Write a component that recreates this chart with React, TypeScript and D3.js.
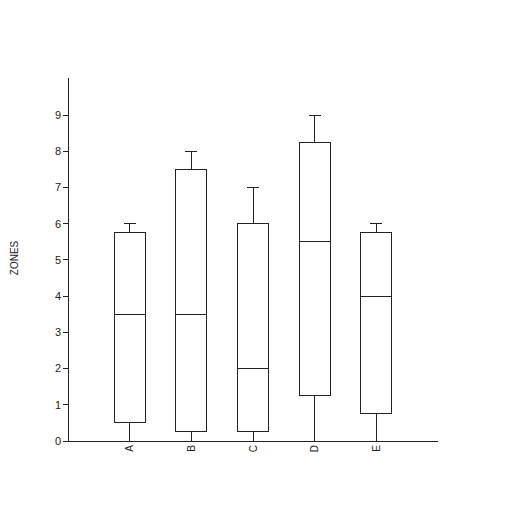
import React from "react";
import * as d3 from "d3";

const categories = ["A", "B", "C", "D", "E"];
const minValues = [0, 0, 0, 0, 0];
const q1Values = [0.5, 0.25, 0.25, 1.25, 0.75];
const medianValues = [3.5, 3.5, 2, 5.5, 4];
const q3Values = [5.75, 7.5, 6, 8.25, 5.75];
const maxValues = [6, 8, 7, 9, 6];
const yTicks = [0, 1, 2, 3, 4, 5, 6, 7, 8, 9];
const yLabel = "ZONES";

export default function App() {
  const W = 507, H = 521;
  const x0 = 68, x1 = 438, yTop = 78, yBottom = 441;
  const x = d3.scalePoint<string>().domain(categories).range([x0, x1]).padding(1);
  const y = d3.scaleLinear().domain([0, 9]).range([yBottom, 115]);
  const boxW = 31, capW = 12;
  const stroke = "#222";
  const font = "Arial, 'Liberation Sans', sans-serif";
  return (
    <svg width={W} height={H} style={{ position: "absolute", left: 0, top: 0 }}>
      <rect width={W} height={H} fill="#fff" />
      <g shapeRendering="crispEdges">
        <line x1={x0} x2={x0} y1={yTop} y2={yBottom} stroke={stroke} />
        <line x1={x0} x2={x1} y1={yBottom} y2={yBottom} stroke={stroke} />
        {yTicks.map((t) => (
          <line key={t} x1={x0 - 5} x2={x0} y1={y(t)} y2={y(t)} stroke={stroke} />
        ))}
        {categories.map((c, i) => {
          const cx = x(c)!;
          return (
            <g key={c}>
              <line x1={cx} x2={cx} y1={y(q3Values[i])} y2={y(maxValues[i])} stroke={stroke} />
              <line x1={cx - capW / 2} x2={cx + capW / 2} y1={y(maxValues[i])} y2={y(maxValues[i])} stroke={stroke} />
              <line x1={cx} x2={cx} y1={y(q1Values[i])} y2={y(minValues[i])} stroke={stroke} />
              <rect x={cx - boxW / 2} y={y(q3Values[i])} width={boxW} height={y(q1Values[i]) - y(q3Values[i])} fill="#fff" stroke={stroke} />
              <line x1={cx - boxW / 2} x2={cx + boxW / 2} y1={y(medianValues[i])} y2={y(medianValues[i])} stroke={stroke} />
            </g>
          );
        })}
      </g>
      {yTicks.map((t) => (
        <text key={t} x={x0 - 7} y={y(t)} dy="0.35em" textAnchor="end" fontSize={11} fontFamily={font} fill="#222">{t}</text>
      ))}
      <text transform={`translate(18,258) rotate(-90)`} textAnchor="middle" fontSize={10} fontFamily={font} fill="#222">{yLabel}</text>
      {categories.map((c) => (
        <text key={c} transform={`translate(${x(c)},${yBottom + 4}) rotate(-90)`} dy="0.35em" textAnchor="end" fontSize={10} fontFamily={font} fill="#222">{c}</text>
      ))}
    </svg>
  );
}
